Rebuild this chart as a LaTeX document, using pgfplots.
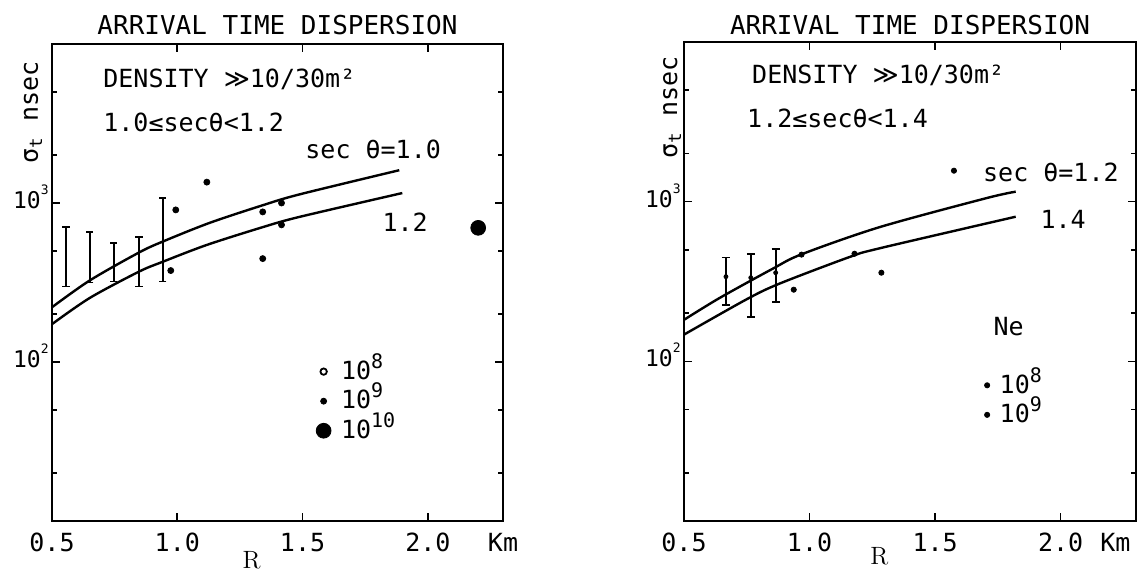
\documentclass[border=0pt]{standalone}
\usepackage{pgfplots}
\pgfplotsset{compat=1.18}
\usepackage{fontspec}
\newfontfamily\plotter{DejaVu Sans Mono}
\newfontfamily\djs{DejaVu Sans}
\newcommand{\pf}{\plotter\fontsize{12.5}{14}\selectfont}
\newcommand{\ttlf}{\plotter\fontsize{13}{15}\selectfont}
\newcommand{\tf}{\plotter\fontsize{11.5}{13}\selectfont}
\newcommand{\mgg}{{\djs ≫}}
\newcommand{\tsup}[1]{\smash{\raisebox{7pt}{\fontsize{6.5}{7}\selectfont #1}}}
\newcommand{\lsup}[1]{\smash{\raisebox{5.5pt}{\fontsize{10}{11}\selectfont #1}}}
\pgfplotsset{
  every axis/.append style={
    scale only axis, xmin=0.5, xmax=2.3, ymin=10, ymax=10000,
    clip=false, axis line style={line width=1pt},
    xtick={0.5,1.0,1.5,2.0}, xticklabels={0.5,1.0,1.5,2.0},
    ytick={10,100,1000,10000}, yticklabels={,10\tsup{2},10\tsup{3},},
    minor ytick={20,50,200,500,2000,5000},
    tick align=inside,
    major tick length=4pt, minor tick length=2.5pt,
    every tick/.style={black, line width=0.8pt},
    xticklabel style={font=\pf, inner sep=0pt, yshift=-6pt},
    yticklabel style={font=\tf, inner sep=1.5pt, yshift=1.5pt},
    legend style={draw=none, fill=none, font=\pf, inner sep=0pt, row sep=0pt, column sep=3pt},
    legend cell align=left,
  },
  curve/.style={black, line width=1.2pt, smooth, no marks},
}
\begin{document}
\begin{tikzpicture}
\path[use as bounding box] (0,0) rectangle (569pt,-285.5pt);

% ---------------- left panel ----------------
\begin{axis}[ymode=log, at={(26pt,-260.5pt)}, anchor=south west,
  width=225.5pt, height=238.5pt,
  legend style={at={(0.585,0.345)}, anchor=north west}]
\addplot[curve, forget plot] coordinates {(0.5,221) (0.651,326) (0.847,488) (0.942,572) (1.129,750) (1.341,968) (1.488,1133) (1.886,1608)};
\addplot[curve, forget plot] coordinates {(0.5,173) (0.651,253) (0.847,370) (0.942,427) (1.118,545) (1.341,705) (1.488,818) (1.898,1155)};
\addplot[only marks, mark=*, mark size=0pt, forget plot,
  error bars/.cd, y dir=both, y explicit,
  error bar style={black, line width=0.9pt},
  error mark=-, error mark options={rotate=90, black, mark size=1.8pt, line width=0.8pt}]
  coordinates {
  (0.556,460) += (0,248) -= (0,161)
  (0.651,456) += (0,203) -= (0,140)
  (0.747,425) += (0,137) -= (0,104)
  (0.847,428) += (0,185) -= (0,129)
  (0.942,587) += (0,488) -= (0,266)
  };
\addlegendimage{only marks, mark=o, mark size=1.6pt, black, line width=0.9pt}
\addlegendentry{10\lsup{8}}
\addplot[only marks, mark=*, mark size=1.5pt, black] coordinates {
  (1.118,1353) (0.994,905) (0.974,376) (1.341,879) (1.341,447) (1.416,729) (1.416,1000)};
\addlegendentry{10\lsup{9}}
\addplot[only marks, mark=*, mark size=3.7pt, black] coordinates {(2.201,698)};
\addlegendentry{10\lsup{10}}
\node[font=\ttlf] at (rel axis cs:0.5,1) [yshift=9.5pt] {ARRIVAL TIME DISPERSION};
\node[font=\pf, anchor=west, inner sep=0pt] at (rel axis cs:0.113,0.925) {DENSITY \mgg10/30m²};
\node[font=\pf, anchor=west, inner sep=0pt] at (rel axis cs:0.113,0.836) {1.0≤secθ<1.2};
\node[font=\pf, anchor=west, inner sep=0pt] at (rel axis cs:0.561,0.778) {sec θ=1.0};
\node[font=\pf, anchor=west, inner sep=0pt] at (rel axis cs:0.732,0.627) {1.2};
\node[font=\pf, rotate=90] at ([xshift=-9.5pt]rel axis cs:0,0.857) {σ\textsubscript{t} nsec};
\node[font=\fontsize{12.5}{14}\selectfont] at (axis cs:1.297,10) [yshift=-19.5pt] {R};
\node[font=\pf] at (axis cs:2.3,10) [yshift=-10.5pt] {Km};
\end{axis}

% ---------------- right panel ----------------
\begin{axis}[ymode=log, at={(342pt,-260.5pt)}, anchor=south west,
  width=226pt, height=239.5pt,
  legend style={at={(0.664,0.315)}, anchor=north west}]
\addplot[curve, forget plot] coordinates {(0.5,182) (0.643,250) (0.853,380) (0.968,468) (1.278,692) (1.702,1050) (1.821,1155)};
\addplot[curve, forget plot] coordinates {(0.5,147) (0.75,245) (0.881,307) (1.159,450) (1.278,510) (1.821,805)};
\addplot[only marks, mark=*, mark size=1pt, black, forget plot,
  error bars/.cd, y dir=both, y explicit,
  error bar style={black, line width=0.9pt},
  error mark=-, error mark options={rotate=90, black, mark size=2pt, line width=0.8pt}]
  coordinates {
  (0.667,339) += (0,107) -= (0,113)
  (0.766,334) += (0,138) -= (0,144)
  (0.865,359) += (0,148) -= (0,123)
  };
\addlegendimage{only marks, mark=*, mark size=1.3pt, black}
\addlegendentry{10\lsup{8}}
\addplot[only marks, mark=*, mark size=1.3pt, black] coordinates {
  (0.968,466) (0.937,281) (1.179,472) (1.286,359) (1.575,1563)};
\addlegendentry{10\lsup{9}}
\node[font=\ttlf] at (rel axis cs:0.5,1) [yshift=8.5pt] {ARRIVAL TIME DISPERSION};
\node[font=\pf, anchor=west, inner sep=0pt] at (rel axis cs:0.150,0.931) {DENSITY \mgg10/30m²};
\node[font=\pf, anchor=west, inner sep=0pt] at (rel axis cs:0.139,0.841) {1.2≤secθ<1.4};
\node[font=\pf, anchor=west, inner sep=0pt] at (rel axis cs:0.661,0.727) {sec θ=1.2};
\node[font=\pf, anchor=west, inner sep=0pt] at (rel axis cs:0.788,0.630) {1.4};
\node[font=\pf, anchor=west, inner sep=0pt] at (rel axis cs:0.684,0.405) {Ne};
\node[font=\pf, rotate=90] at ([xshift=-6pt]rel axis cs:0,0.864) {σ\textsubscript{t} nsec};
\node[font=\fontsize{12.5}{14}\selectfont] at (axis cs:1.278,10) [yshift=-17.5pt] {R};
\node[font=\pf] at (axis cs:2.218,10) [yshift=-10.5pt] {Km};
\end{axis}
\end{tikzpicture}
\end{document}
